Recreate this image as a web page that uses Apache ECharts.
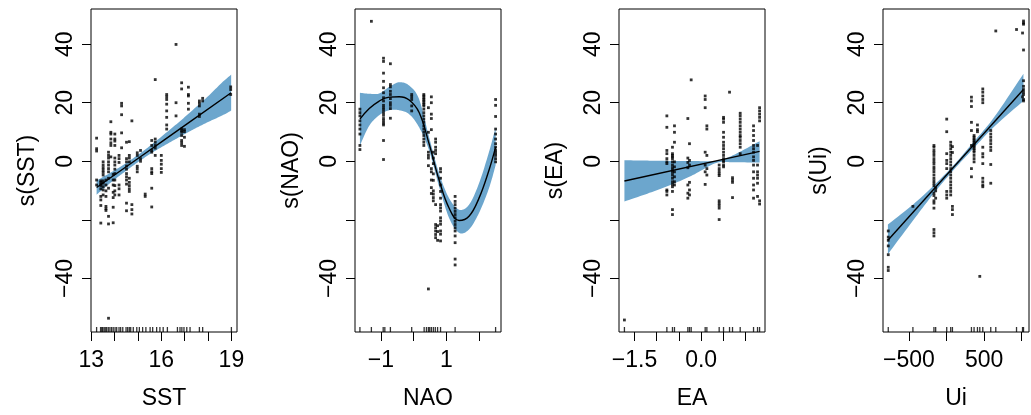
<!DOCTYPE html>
<html><head><meta charset="utf-8">
<script src="https://cdn.jsdelivr.net/npm/echarts@6/dist/echarts.min.js"></script>
<style>html,body{margin:0;padding:0;background:#fff}#c{width:1031px;height:415px}</style>
</head><body><div id="c"></div><script>
// ---- shared y axis ----
const yMin = -58.3, yMax = 52.0;
const yTicks = [-40, -20, 0, 20, 40];
const yLabels = [-40, 0, 20, 40];

// ---- SST ----
const sstX = [13.23, 13.41, 13.51, 13.63, 13.74, 13.84, 13.94, 14.01, 14.19, 14.30, 14.51, 14.63, 14.74, 14.97, 15.11, 15.31, 15.59, 15.74, 16.00, 16.23, 16.63, 16.87, 16.99, 17.16, 17.63, 17.77, 18.97];
const sstY = [
  [7.9, 4.3, 3.5, -6.4, -8.1],
  [-6.7, -7.2, -7.8, -8.3, -9.4, -12.0, -13.2, -15.1, -21.1],
  [-0.2, -1.3, -2.2, -3.0, -3.8, -4.7, -6.7, -7.5, -8.7, -9.8, -11.5],
  [-6.4, -8.1, -10.1, -12.0, -15.4, -16.2, -16.8],
  [3.1, 2.0, 1.1, -0.2, -1.3, -2.5, -3.6, -5.8, -9.2, -18.8, -21.4, -53.6],
  [13.5, 9.9, 9.3, 7.6, 6.3, 5.4, 1.5],
  [-4.5, -6.4, -8.1, -10.6, -12.4, -15.7, -21.0],
  [9.3, 7.6, 6.9, 5.4, 1.1, -0.2, -1.3, -2.7, -4.2, -6.4, -8.3, -10.1, -11.5],
  [2.0, 0.9, -0.4, -8.1, -9.4, -11.5],
  [19.8, 18.9, 15.9, 9.7, 4.6],
  [6.5, 0.9, -0.2, -1.6, -2.7, -4.2, -5.3, -6.4, -7.8, -14.3, -16.9],
  [6.7, 2.0, 1.1, -0.2, -5.8, -7.2, -8.3, -9.4, -10.3],
  [13.8, -14.8, -16.5, -18.0],
  [2.9, 2.0, -1.7, -2.5, -3.6],
  [3.7, 0.9, 0.0],
  [-11.2, -12.0],
  [7.1, 5.4, 3.7, 3.1, -2.5, -3.6, -4.2, -9.2, -15.6],
  [27.9, 7.6, 6.5, 5.4, 4.5, 2.0],
  [2.0, 0.3, -1.0, -2.5, -3.8],
  [22.8, 22.0, 21.1, 19.5, 17.2, 15.0, 12.4, 11.0],
  [39.9, 20.0, 15.5],
  [26.8, 24.7, 11.0, 10.5, 9.9, 8.8, 7.1, 6.3, 5.4],
  [10.8, 10.1, 8.2, 5.1],
  [25.3, 22.8, 22.3, 19.8, 17.8],
  [20.6, 19.8, 18.9, 16.1, 15.3],
  [21.5, 20.6],
  [25.4, 24.5, 22.8]
];
const sstRug = [13.23, 13.40, 13.45, 13.49, 13.55, 13.60, 13.66, 13.73, 13.80, 13.87, 13.94, 14.02, 14.09, 14.19, 14.26, 14.35, 14.49, 14.56, 14.63, 14.69, 14.80, 14.95, 15.06, 15.20, 15.34, 15.52, 15.63, 15.80, 15.94, 16.08, 16.26, 16.69, 16.80, 16.88, 16.97, 17.09, 17.23, 17.63, 17.77, 19.00];
const sstFitX = [13.23, 16.1, 18.99];
const sstFitY = [-8.97, 7.13, 23.4];
const sstBandX = [13.23, 13.8, 14.4, 15.0, 15.6, 16.2, 16.8, 17.4, 18.0, 18.6, 18.99];
const sstBandHi = [-6.6, -4.0, -1.1, 2.2, 5.8, 9.7, 13.7, 17.9, 22.2, 26.9, 29.6];
const sstBandLo = [-11.4, -7.5, -3.8, -0.3, 2.9, 5.7, 8.4, 11.0, 13.4, 15.6, 17.3];
const sstTicks = [13, 14, 15, 16, 17, 18, 19];
const sstLabels = [13, 16, 19];

// ---- NAO ----
const naoX = [-1.64, -1.29, -0.92, -0.71, -0.06, 0.31, 0.45, 0.54, 0.60, 0.67, 0.73, 0.82, 1.265, 2.50];
const naoY = [
  [17.8, 16.6, 15.5, 13.8, 12.4, 11.0, 9.3, 5.4, 4.0],
  [47.8],
  [35.2, 34.1, 30.1, 27.3, 25.1, 23.4, 21.7, 20.6, 19.1, 18.3, 17.5, 16.6, 15.7, 14.6, 13.8, 13.0, 12.4, 7.1, 0.6],
  [33.3, 26.2, 25.4, 23.9, 22.8, 21.4, 20.0, 19.1, 18.0, 14.7],
  [22.8, 22.0, 21.1, 18.9, 17.2],
  [22.8, 22.3, 21.7, 21.1, 20.6, 20.0, 19.4, 18.9, 17.8, 16.6, 15.5, 14.4, 13.3, 12.1, 11.0, 9.9, 8.8, 7.6, 6.5, 5.4],
  [18.3, 9.9, 3.1, 2.0, 1.1, -1.5, -43.6],
  [22.0, 20.0, 16.1, 14.6, 10.8, -2.5, -3.6, -6.4, -9.0, -11.0],
  [3.1, 1.1, -0.8, -4.3, -6.5, -10.1, -11.2, -12.4, -13.5],
  [7.6, 6.5, 4.8, 3.7, 2.6, -14.8, -21.6, -22.7, -23.8, -25.0, -26.1],
  [-27.0, -24.0, -22.0],
  [-2.5, -3.6, -5.8, -8.1, -10.3, -12.6, -14.8, -15.9, -17.0, -19.3, -20.4, -21.5, -23.8, -24.9, -27.2],
  [-12.0, -13.7, -14.8, -16.0, -17.1, -18.2, -19.3, -20.5, -21.6, -22.7, -23.8, -25.5, -27.8, -33.4, -35.4],
  [21.1, 19.1, 15.3, 11.0, 9.3, 7.6, 6.0, 4.8, 3.7, 2.9, 2.0, 0.9, -0.2]
];
const naoRug = [-1.64, -1.29, -0.93, -0.88, -0.71, -0.06, 0.32, 0.39, 0.45, 0.49, 0.54, 0.60, 0.66, 0.73, 0.82, 1.265, 2.50];
const naoFitX = [-1.64, -1.355, -1.051, -0.746, -0.442, -0.137, 0.167, 0.471, 0.776, 1.080, 1.385, 1.689, 1.994, 2.298, 2.501];
const naoFitY = [14.39, 17.99, 20.57, 21.92, 22.04, 20.91, 16.64, 5.96, -6.41, -15.97, -20.24, -18.78, -12.59, -3.04, 4.83];
const naoBandX = naoFitX;
const naoBandHi = [23.39, 23.05, 23.16, 25.41, 26.98, 25.86, 21.14, 8.21, -4.16, -12.59, -16.53, -14.84, -7.53, 3.15, 11.58];
const naoBandLo = [5.40, 12.14, 15.74, 17.43, 17.43, 16.08, 11.58, 3.71, -8.66, -19.34, -24.40, -23.27, -17.65, -9.22, -1.35];
const naoTicks = [-1, 0, 1, 2];
const naoLabels = [-1, 1];

// ---- EA ----
const eaX = [-1.727, -0.772, -0.646, -0.601, -0.300, -0.263, -0.225, 0.090, 0.128, 0.405, 0.503, 0.638, 0.705, 0.878, 1.178, 1.268, 1.314];
const eaY = [
  [-54.2],
  [15.5, 11.6, 3.7, 2.6, 0.9, -0.2, -0.8, -9.8, -10.3, -11.5],
  [4.8, 2.6, 2.0, 1.5, 0.9, -0.2, -1.3, -2.2, -3.0, -3.8, -4.7, -5.8, -7.0, -7.9, -8.7, -10.3, -16.5, -18.2],
  [12.1, 9.9, 6.5, -0.2, -1.9, -3.6, -5.3, -7.0, -8.1],
  [14.6, 1.1, -0.4, -2.2, -8.1, -10.9, -12.6],
  [6.0, 0.3, -1.3, -7.2, -9.8, -11.5],
  [27.8],
  [22.3, 21.1, 18.3, 3.1, -1.3, -3.6, -7.9],
  [12.1, 11.0, 2.0, -2.5, -4.7],
  [-1.3, -2.5, -3.4, -4.2, -4.9, -13.5, -14.3, -15.1, -16.0, -19.9],
  [15.0, 14.4, 13.3, 9.9, 8.2, 6.5, 5.4, 4.3, 3.1, 2.0, 0.9, 0.3, -0.2, -1.3, -1.9],
  [23.6],
  [-5.6, -6.4, -7.2, -12.4],
  [16.4, 15.5, 14.4, 13.3, 12.1, 11.0, 9.9, 8.8, 8.2, 7.1, 6.0, 4.8, 2.6],
  [12.1, 10.5, 8.8, 7.1, 5.4, 4.3, 3.1, 1.5, 0.3, -1.3, -3.6, -5.8, -8.1, -9.8, -12.6],
  [5.4, -1.3, -3.6, -4.7, -5.8, -7.5, -12.0],
  [18.3, 17.2, 16.1, 15.0, 13.8, -13.5, -14.6]
];
const eaRug = eaX;
const eaFitX = [-1.727, 1.314];
const eaFitY = [-6.75, 3.37];
const eaBandX = [-1.727, -1.164, -0.638, -0.188, 0.338, 0.713, 1.314];
const eaBandHi = [0.34, 0.22, 0.11, 0.11, 0.11, 2.02, 6.86];
const eaBandLo = [-13.72, -10.79, -7.76, -4.72, -0.56, -0.34, -0.45];
const eaTicks = [-1.5, -1.0, -0.5, 0.0, 0.5, 1.0];
const eaLabels = [-1.5, 0.0];

// ---- Ui ----
const uiX = [-775, -447, -167, -144, 3, 56, 79, 332, 367, 412, 443, 483, 589, 656, 932, 1012, 1025];
const uiY = [
  [-23.8, -25.9, -27.0, -28.9, -31.9, -36.2, -37.3],
  [-15.4],
  [5.4, 4.8, 3.7, 2.9, 2.0, 0.9, 0.0, -0.8, -1.9, -2.7, -3.6, -4.7, -5.8, -6.7, -7.5, -8.3, -10.9, -11.7, -13.5, -14.3, -16.0, -23.3, -24.4, -25.5],
  [-9.2, -10.1, -12.6],
  [14.4, 10.1, 2.6, 0.3, -0.8, -2.5, -10.3, -11.5, -12.6],
  [6.5, 5.4, 4.3, 3.1, 2.0, 0.9, -0.2, -1.3, -2.5, -3.6, -4.7, -5.8, -7.0, -8.1, -9.2, -10.3, -11.5],
  [5.0, 3.0, -15.4, -16.5, -18.2],
  [21.9, 20.6, 18.7, 13.3, 10.5, 5.4, -2.5, -5.3],
  [8.8, 8.2, 7.6, 7.1, 6.5, 5.9, 5.4, 4.8, 4.3, 3.7, 3.1, 2.0, 0.9, -0.2],
  [12.4, 10.8, 10.1],
  [-39.3],
  [24.7, 23.6, 22.3, 21.1, 20.0, 4.8, 2.6, 1.5, -0.8, -5.8, -7.0, -8.1, -8.7],
  [10.5, 9.3, 8.2, 7.1, 6.0, 4.8, 3.7, -1.1, -7.5],
  [44.5],
  [45.0],
  [43.8, 22.0],
  [47.9, 47.2, 46.8, 38.0, 27.5, 25.6, 24.5, 23.6, 22.8, 21.1, 20.6]
];
const uiRug = uiX;
const uiFitX = [-780, 1024];
const uiFitY = [-27.0, 24.5];
const uiBandX = [-780, -433, -167, 100, 367, 633, 1024];
const uiBandHi = [-21.6, -14.5, -8.2, -1.2, 6.8, 15.0, 29.9];
const uiBandLo = [-31.7, -19.8, -10.9, -2.8, 4.6, 11.8, 20.6];
const uiTicks = [-500, 0, 500, 1000];
const uiLabels = [-500, 500];

// ---- layout / style ----
const FONT = "'Liberation Sans', Arial, Helvetica, sans-serif";
const FS = 23;
const BAND = '#6CA6CD';
const minus = s => s.replace('-', '\u2212');

const panels = [
  {name: 'SST', x: sstX, y: sstY, rug: sstRug, fx: sstFitX, fy: sstFitY, bx: sstBandX, hi: sstBandHi, lo: sstBandLo,
   ticks: sstTicks, labels: sstLabels, min: 12.99, max: 19.24, fmt: v => minus(String(v))},
  {name: 'NAO', x: naoX, y: naoY, rug: naoRug, fx: naoFitX, fy: naoFitY, bx: naoBandX, hi: naoBandHi, lo: naoBandLo,
   ticks: naoTicks, labels: naoLabels, min: -1.79, max: 2.665, fmt: v => minus(String(v))},
  {name: 'EA', x: eaX, y: eaY, rug: eaRug, fx: eaFitX, fy: eaFitY, bx: eaBandX, hi: eaBandHi, lo: eaBandLo,
   ticks: eaTicks, labels: eaLabels, min: -1.849, max: 1.436, fmt: v => minus(Number(v).toFixed(1))},
  {name: 'Ui', x: uiX, y: uiY, rug: uiRug, fx: uiFitX, fy: uiFitY, bx: uiBandX, hi: uiBandHi, lo: uiBandLo,
   ticks: uiTicks, labels: uiLabels, min: -845, max: 1098, fmt: v => minus(String(v))}
];
const lefts = [91, 355, 619, 883];

// Catmull-Rom smoothing of a pixel polyline (rendering only)
function smoothPts(p) {
  if (p.length < 3) return p.slice();
  const out = [];
  for (let i = 0; i < p.length - 1; i++) {
    const p0 = p[Math.max(i - 1, 0)], p1 = p[i], p2 = p[i + 1], p3 = p[Math.min(i + 2, p.length - 1)];
    for (let s = 0; s < 12; s++) {
      const t = s / 12, t2 = t * t, t3 = t2 * t;
      const f = k => 0.5 * ((2 * p1[k]) + (-p0[k] + p2[k]) * t + (2 * p0[k] - 5 * p1[k] + 4 * p2[k] - p3[k]) * t2 + (-p0[k] + 3 * p1[k] - 3 * p2[k] + p3[k]) * t3);
      out.push([f(0), f(1)]);
    }
  }
  out.push(p[p.length - 1]);
  return out;
}
function bandRenderer(bx, hi, lo) {
  return function (params, api) {
    if (params.dataIndex !== 0) return null;
    const up = bx.map((x, i) => api.coord([x, hi[i]]));
    const dn = bx.map((x, i) => api.coord([x, lo[i]]));
    const pts = smoothPts(up).concat(smoothPts(dn).reverse());
    return {type: 'polygon', shape: {points: pts}, style: {fill: BAND, stroke: null}};
  };
}

const zip = (a, b) => a.map((v, i) => [v, b[i]]);
const grid = [], xAxis = [], yAxis = [], series = [];
panels.forEach((p, i) => {
  grid.push({left: lefts[i], top: 9, width: 146, height: 327, show: true, z: 10,
    borderColor: '#000', borderWidth: 1, backgroundColor: 'transparent'});
  xAxis.push({type: 'value', gridIndex: i, min: p.min, max: p.max,
    axisLine: {show: false, onZero: false}, splitLine: {show: false},
    axisTick: {show: true, customValues: p.ticks, length: 9, lineStyle: {color: '#000', width: 1}},
    axisLabel: {customValues: p.labels, formatter: p.fmt, color: '#000', fontSize: FS, fontFamily: FONT, margin: 17},
    name: p.name, nameLocation: 'middle', nameGap: 55,
    nameTextStyle: {color: '#000', fontSize: FS, fontFamily: FONT}});
  yAxis.push({type: 'value', gridIndex: i, min: yMin, max: yMax,
    axisLine: {show: false, onZero: false}, splitLine: {show: false},
    axisTick: {show: true, customValues: yTicks, length: 9, lineStyle: {color: '#000', width: 1}},
    axisLabel: {customValues: yLabels, rotate: 90, formatter: v => minus(String(v)), color: '#000', fontSize: FS, fontFamily: FONT, margin: 14},
    name: 's(' + p.name + ')', nameLocation: 'middle', nameGap: 52, nameRotate: 90,
    nameTextStyle: {color: '#000', fontSize: FS, fontFamily: FONT}});
  const common = {xAxisIndex: i, yAxisIndex: i, silent: true, animation: false};
  series.push(Object.assign({type: 'custom', renderItem: bandRenderer(p.bx, p.hi, p.lo),
    data: zip(p.bx, p.hi), z: 1}, common));
  const pts = [];
  p.x.forEach((xv, k) => p.y[k].forEach(yv => pts.push([xv, yv])));
  series.push(Object.assign({type: 'scatter', data: pts, symbol: 'rect', symbolSize: 2.8,
    itemStyle: {color: '#000'}, z: 3}, common));
  series.push(Object.assign({type: 'line', data: zip(p.fx, p.fy), smooth: 0.4, showSymbol: false, symbol: 'none',
    lineStyle: {width: 1.4, color: '#000'}, z: 4}, common));
  series.push(Object.assign({type: 'scatter', data: p.rug.map(v => [v, yMin]), symbol: 'rect', symbolSize: [1.3, 5],
    symbolOffset: [0, -2.5], itemStyle: {color: '#000'}, z: 5}, common));
});

const chart = echarts.init(document.getElementById('c'), null, {renderer: 'canvas'});
chart.setOption({animation: false, backgroundColor: '#fff', grid, xAxis, yAxis, series});
</script></body></html>
